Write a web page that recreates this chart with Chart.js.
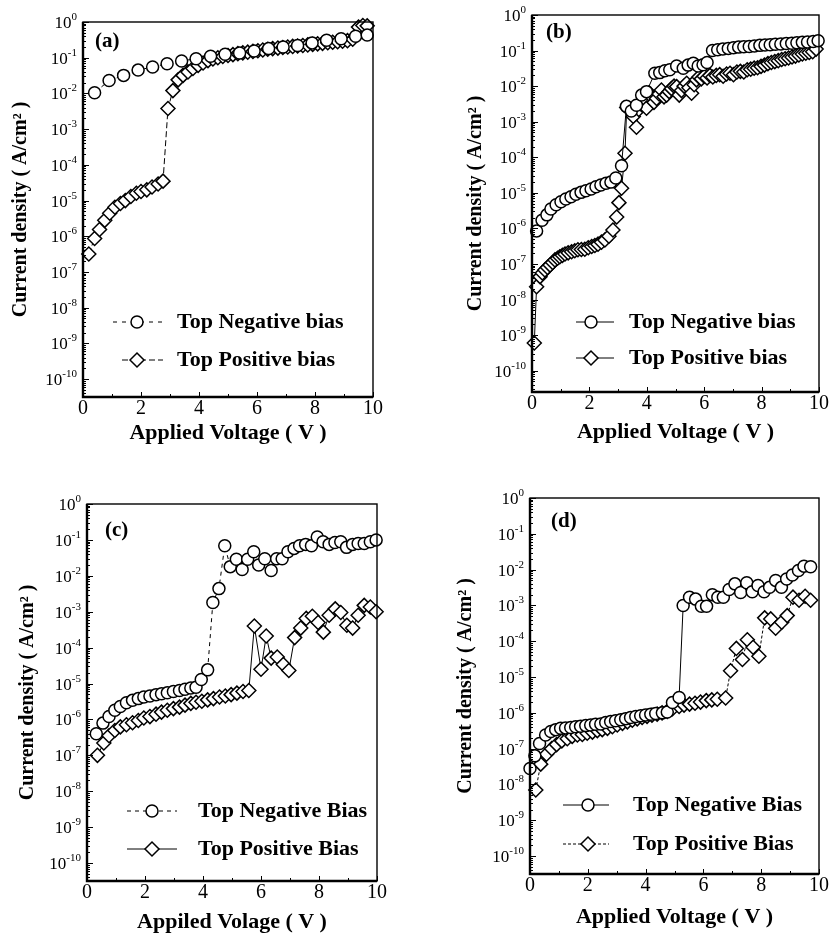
<!DOCTYPE html>
<html>
<head>
<meta charset="utf-8">
<script src="https://cdn.jsdelivr.net/npm/chart.js@4.4.1/dist/chart.umd.min.js"></script>
<style>
  html, body { margin: 0; padding: 0; background: #fff; }
  #wrap { position: relative; width: 832px; height: 938px; }
  #wrap canvas { position: absolute; }
</style>
</head>
<body>
<div id="wrap">
  <canvas id="ca" width="416" height="469" style="left:0;top:0"></canvas>
  <canvas id="cb" width="416" height="469" style="left:416px;top:0"></canvas>
  <canvas id="cc" width="416" height="469" style="left:0;top:469px"></canvas>
  <canvas id="cd" width="416" height="469" style="left:416px;top:469px"></canvas>
</div>
<script>
// ---- data (V, A/cm^2) ----

// (a)
const aNegV = [0.4, 0.9, 1.4, 1.9, 2.4, 2.9, 3.4, 3.9, 4.4, 4.9, 5.4, 5.9, 6.4, 6.9, 7.4, 7.9, 8.4, 8.9, 9.4, 9.8];
const aNegJ = [1.05e-2, 2.3e-2, 3.2e-2, 4.5e-2, 5.5e-2, 6.8e-2, 8.1e-2, 9.4e-2, 0.11, 0.125, 0.136, 0.155, 0.18, 0.2, 0.22, 0.26, 0.31, 0.34, 0.40, 0.43];
const aPosV = [0.2, 0.4, 0.57, 0.75, 0.92, 1.1, 1.29, 1.46, 1.65, 1.84,
  2.0, 2.2, 2.38, 2.59, 2.76, 2.93, 3.1, 3.28, 3.45, 3.62,
  3.79, 3.97, 4.14, 4.31, 4.48, 4.65, 4.82, 5.0, 5.17, 5.34,
  5.51, 5.68, 5.86, 6.03, 6.2, 6.37, 6.54, 6.72, 6.89, 7.06,
  7.23, 7.4, 7.58, 7.75, 7.92, 8.09, 8.26, 8.44, 8.61, 8.78,
  8.95, 9.12, 9.3, 9.5, 9.65, 9.8];
const aPosJ = [3.2e-7, 8.7e-7, 1.55e-6, 2.8e-6, 4.4e-6, 6.5e-6, 8.3e-6, 1.0e-5, 1.3e-5, 1.6e-5,
  1.8e-5, 2.0e-5, 2.4e-5, 2.9e-5, 3.5e-5, 3.8e-3, 1.2e-2, 2.4e-2, 3.2e-2, 4.0e-2,
  5.0e-2, 6.1e-2, 7.1e-2, 8.3e-2, 9.2e-2, 0.10, 0.108, 0.115, 0.122, 0.13,
  0.137, 0.143, 0.15, 0.157, 0.165, 0.172, 0.18, 0.186, 0.193, 0.2,
  0.207, 0.213, 0.22, 0.228, 0.236, 0.245, 0.253, 0.262, 0.27, 0.28,
  0.29, 0.30, 0.33, 0.72, 0.8, 0.78];

// (b)
const bNegV = [0.16, 0.35, 0.52, 0.66, 0.84, 1.01, 1.18, 1.36, 1.53, 1.71,
  1.88, 2.06, 2.23, 2.40, 2.58, 2.75, 2.92, 3.12, 3.29, 3.46,
  3.64, 3.82, 3.99, 4.28, 4.45, 4.63, 4.8, 5.04, 5.27, 5.44,
  5.62, 5.79, 5.96, 6.1, 6.29, 6.47, 6.65, 6.84, 7.02, 7.2,
  7.38, 7.57, 7.75, 7.94, 8.12, 8.3, 8.48, 8.67, 8.86, 9.05,
  9.23, 9.42, 9.6, 9.8, 9.97];
const bNegJ = [8.5e-7, 1.7e-6, 2.4e-6, 3.5e-6, 4.6e-6, 5.6e-6, 6.7e-6, 7.8e-6, 9.1e-6, 1.03e-5,
  1.15e-5, 1.28e-5, 1.48e-5, 1.66e-5, 1.85e-5, 2.0e-5, 2.6e-5, 5.8e-5, 2.7e-3, 2.0e-3,
  2.9e-3, 5.6e-3, 7.0e-3, 2.3e-2, 2.4e-2, 2.7e-2, 2.9e-2, 3.7e-2, 3.2e-2, 3.9e-2,
  4.4e-2, 3.7e-2, 4.0e-2, 4.6e-2, 0.10, 0.105, 0.11, 0.115, 0.12, 0.125,
  0.128, 0.13, 0.135, 0.14, 0.143, 0.146, 0.15, 0.153, 0.157, 0.16,
  0.165, 0.17, 0.175, 0.18, 0.19];
const bPosV = [0.08, 0.16, 0.28, 0.36, 0.45, 0.54, 0.63, 0.72, 0.8, 0.89,
  0.97, 1.06, 1.15, 1.26, 1.38, 1.49, 1.6, 1.72, 1.84, 1.96,
  2.08, 2.19, 2.3, 2.42, 2.54, 2.68, 2.82, 2.95, 3.03, 3.12,
  3.24, 3.3, 3.47, 3.53, 3.64, 3.72, 3.82, 3.9, 3.99, 4.08,
  4.17, 4.25, 4.34, 4.43, 4.51, 4.6, 4.69, 4.78, 4.86, 4.95,
  5.04, 5.13, 5.21, 5.3, 5.39, 5.47, 5.56, 5.65, 5.73, 5.82,
  5.9, 6.0, 6.1, 6.2, 6.3, 6.42, 6.54, 6.66, 6.78, 6.9,
  7.02, 7.14, 7.26, 7.38, 7.5, 7.62, 7.74, 7.86, 7.98, 8.1,
  8.22, 8.34, 8.46, 8.58, 8.7, 8.82, 8.94, 9.06, 9.18, 9.3,
  9.42, 9.54, 9.66, 9.78, 9.9];
const bPosJ = [6e-10, 2.3e-8, 4.4e-8, 5.6e-8, 6.8e-8, 8e-8, 9.3e-8, 1.1e-7, 1.3e-7, 1.45e-7,
  1.6e-7, 1.75e-7, 1.9e-7, 2.05e-7, 2.2e-7, 2.35e-7, 2.5e-7, 2.55e-7, 2.6e-7, 2.85e-7,
  3.1e-7, 3.3e-7, 3.6e-7, 4.1e-7, 4.7e-7, 6.0e-7, 9e-7, 2.1e-6, 5.3e-6, 1.35e-5,
  1.3e-4, 2.5e-3, 1.9e-3, 1.4e-3, 7e-4, 2.2e-3, 3e-3, 4.5e-3, 2.4e-3, 6.5e-3,
  5e-3, 3.5e-3, 4.5e-3, 6e-3, 7.8e-3, 5e-3, 5.6e-3, 7e-3, 8.5e-3, 1.0e-2,
  9.7e-3, 5.6e-3, 7.5e-3, 1.0e-2, 1.2e-2, 9e-3, 6.3e-3, 1.1e-2, 1.5e-2, 1.8e-2,
  1.6e-2, 1.9e-2, 1.7e-2, 2.0e-2, 1.8e-2, 2.0e-2, 2.1e-2, 1.9e-2, 2.2e-2, 2.3e-2,
  2.1e-2, 2.5e-2, 2.6e-2, 2.5e-2, 2.9e-2, 3.0e-2, 3.2e-2, 3.3e-2, 3.6e-2, 3.9e-2,
  4.3e-2, 4.6e-2, 4.9e-2, 5.2e-2, 5.6e-2, 5.9e-2, 6.2e-2, 6.6e-2, 7.0e-2, 7.5e-2,
  8.0e-2, 8.4e-2, 8.8e-2, 9.3e-2, 0.11];

// (c)
const cNegV = [0.32, 0.55, 0.76, 0.96, 1.15, 1.36, 1.57, 1.77, 1.96, 2.17,
  2.38, 2.57, 2.77, 2.98, 3.19, 3.38, 3.58, 3.76, 3.94, 4.16,
  4.34, 4.55, 4.75, 4.94, 5.15, 5.35, 5.54, 5.75, 5.92, 6.13,
  6.35, 6.54, 6.73, 6.93, 7.14, 7.33, 7.54, 7.74, 7.94, 8.14,
  8.35, 8.55, 8.75, 8.95, 9.16, 9.35, 9.56, 9.77, 9.97];
const cNegJ = [4e-7, 7.9e-7, 1.2e-6, 1.8e-6, 2.3e-6, 2.9e-6, 3.4e-6, 3.8e-6, 4.2e-6, 4.5e-6,
  4.9e-6, 5.2e-6, 5.5e-6, 6.0e-6, 6.4e-6, 6.9e-6, 7.5e-6, 7.9e-6, 1.3e-5, 2.4e-5,
  1.8e-3, 4.4e-3, 6.9e-2, 1.8e-2, 2.9e-2, 1.5e-2, 2.9e-2, 4.7e-2, 2e-2, 3e-2,
  1.4e-2, 3e-2, 3e-2, 4.7e-2, 5.8e-2, 6.9e-2, 7.5e-2, 6.9e-2, 0.12, 8.9e-2,
  7.5e-2, 8.5e-2, 8.9e-2, 6.2e-2, 7.5e-2, 7.9e-2, 7.9e-2, 8.9e-2, 0.10];
const cPosV = [0.36, 0.58, 0.76, 0.96, 1.15, 1.36, 1.57, 1.77, 1.96, 2.17,
  2.38, 2.57, 2.77, 2.98, 3.19, 3.38, 3.58, 3.76, 3.96, 4.16,
  4.36, 4.57, 4.77, 4.97, 5.17, 5.38, 5.58, 5.77, 6.0, 6.18,
  6.35, 6.56, 6.77, 6.96, 7.16, 7.37, 7.56, 7.77, 7.97, 8.15,
  8.35, 8.56, 8.75, 8.96, 9.16, 9.35, 9.56, 9.77, 9.97];
const cPosJ = [1.0e-7, 2.2e-7, 3.5e-7, 4.9e-7, 6.2e-7, 7.1e-7, 8.1e-7, 9.3e-7, 1.1e-6, 1.2e-6,
  1.4e-6, 1.6e-6, 1.8e-6, 2.0e-6, 2.2e-6, 2.5e-6, 2.8e-6, 3.0e-6, 3.2e-6, 3.5e-6,
  3.8e-6, 4.2e-6, 4.5e-6, 4.9e-6, 5.4e-6, 6.0e-6, 6.4e-6, 4.0e-4, 2.5e-5, 2.1e-4,
  5.1e-5, 5.5e-5, 3.4e-5, 2.3e-5, 1.9e-4, 3.5e-4, 6.5e-4, 7.5e-4, 5e-4, 2.7e-4,
  8e-4, 1.2e-3, 9.5e-4, 4.2e-4, 3.5e-4, 8e-4, 1.5e-3, 1.35e-3, 1.0e-3];

// (d)
const dNegV = [0.0, 0.17, 0.33, 0.54, 0.72, 0.89, 1.06, 1.23, 1.41, 1.58,
  1.75, 1.93, 2.10, 2.27, 2.45, 2.62, 2.79, 2.96, 3.14, 3.31,
  3.48, 3.66, 3.83, 4.0, 4.18, 4.35, 4.58, 4.75, 4.93, 5.16,
  5.3, 5.52, 5.73, 5.93, 6.11, 6.31, 6.5, 6.69, 6.89, 7.09,
  7.29, 7.5, 7.69, 7.89, 8.1, 8.29, 8.5, 8.7, 8.88, 9.08,
  9.29, 9.48, 9.71];
const dNegJ = [2.8e-8, 6.3e-8, 1.4e-7, 2.4e-7, 3.0e-7, 3.4e-7, 3.7e-7, 3.8e-7, 3.9e-7, 4.1e-7,
  4.2e-7, 4.4e-7, 4.6e-7, 4.8e-7, 4.9e-7, 5.4e-7, 5.7e-7, 6.0e-7, 6.4e-7, 6.9e-7,
  7.4e-7, 7.9e-7, 8.3e-7, 8.7e-7, 9.1e-7, 9.6e-7, 1.0e-6, 1.05e-6, 1.95e-6, 2.7e-6,
  1e-3, 1.7e-3, 1.5e-3, 9.5e-4, 9.5e-4, 2e-3, 1.7e-3, 1.7e-3, 2.8e-3, 4e-3,
  2.3e-3, 4.3e-3, 2.4e-3, 3.6e-3, 2.4e-3, 3.2e-3, 5e-3, 3.2e-3, 5.5e-3, 7.1e-3,
  9.5e-3, 1.25e-2, 1.2e-2];
const dPosV = [0.2, 0.37, 0.57, 0.75, 0.92, 1.1, 1.29, 1.46, 1.64, 1.81,
  1.98, 2.16, 2.33, 2.5, 2.68, 2.85, 3.02, 3.2, 3.37, 3.54,
  3.71, 3.88, 4.05, 4.22, 4.4, 4.57, 4.75, 4.93, 5.16, 5.33,
  5.52, 5.71, 5.9, 6.1, 6.29, 6.48, 6.77, 6.94, 7.14, 7.35,
  7.52, 7.72, 7.92, 8.12, 8.33, 8.5, 8.71, 8.9, 9.1, 9.31,
  9.52, 9.71];
const dPosJ = [7e-9, 3.7e-8, 7e-8, 1e-7, 1.3e-7, 1.65e-7, 1.9e-7, 2.2e-7, 2.4e-7, 2.5e-7,
  2.7e-7, 2.9e-7, 3.2e-7, 3.4e-7, 3.7e-7, 4.1e-7, 4.6e-7, 5.1e-7, 5.6e-7, 6.2e-7,
  6.8e-7, 7.4e-7, 8.0e-7, 8.6e-7, 9.2e-7, 1.0e-6, 1.1e-6, 1.3e-6, 1.5e-6, 1.65e-6,
  1.75e-6, 1.85e-6, 2.0e-6, 2.2e-6, 2.3e-6, 2.4e-6, 2.6e-6, 1.5e-5, 6.3e-5, 3.1e-5,
  1.1e-4, 6.8e-5, 3.8e-5, 4.5e-4, 4.2e-4, 2.3e-4, 3.4e-4, 5.2e-4, 1.7e-3, 1.4e-3,
  1.8e-3, 1.4e-3];

// ---- axes ----
const yTickVals = [1e-10, 1e-9, 1e-8, 1e-7, 1e-6, 1e-5, 1e-4, 1e-3, 1e-2, 1e-1, 1];
const yTickExp = ['-10', '-9', '-8', '-7', '-6', '-5', '-4', '-3', '-2', '-1', '0'];
const xTickStep = 2;
const yTitle = 'Current density ( A/cm² )';

const SERIF = '"Liberation Serif", "Times New Roman", serif';
const W = 416, H = 469;

const pts = (xs, ys) => xs.map((x, i) => ({ x: x, y: ys[i] }));

// inward ticks, 10^n labels, frame, panel tag and in-plot legend
const panelDeco = {
  id: 'panelDeco',
  afterDraw(chart, args, o) {
    const ctx = chart.ctx, a = chart.chartArea;
    const xs = chart.scales.x, ys = chart.scales.y;
    ctx.save();
    ctx.strokeStyle = '#000';
    ctx.fillStyle = '#000';

    ctx.lineWidth = 1;
    ctx.beginPath();
    for (let e = -11; e <= 0; e++) {
      for (let m = 1; m < 10; m++) {
        const v = m * Math.pow(10, e);
        if (v < ys.min || v > ys.max) continue;
        const y = Math.round(ys.getPixelForValue(v)) + 0.5;
        const len = m === 1 ? 6 : 3;
        ctx.moveTo(a.left, y);
        ctx.lineTo(a.left + len, y);
      }
    }
    for (let v = 0; v <= 10; v++) {
      const x = Math.round(xs.getPixelForValue(v)) + 0.5;
      const len = v % 2 === 0 ? 5 : 3;
      ctx.moveTo(x, a.bottom);
      ctx.lineTo(x, a.bottom - len);
    }
    ctx.stroke();

    // y tick labels: "10" with a raised exponent
    ctx.textAlign = 'right';
    ctx.textBaseline = 'alphabetic';
    yTickVals.forEach((v, i) => {
      const y = ys.getPixelForValue(v);
      const xr = a.left - 6;
      ctx.font = '11px ' + SERIF;
      ctx.fillText(yTickExp[i], xr, y - 2);
      const ew = ctx.measureText(yTickExp[i]).width;
      ctx.font = '17px ' + SERIF;
      ctx.fillText('10', xr - ew, y + 6);
    });

    ctx.lineWidth = 1.4;
    ctx.strokeRect(a.left, a.top, a.right - a.left, a.bottom - a.top);
    ctx.lineWidth = 2.4;
    ctx.beginPath();
    ctx.moveTo(a.left, a.top);
    ctx.lineTo(a.left, a.bottom);
    ctx.lineTo(a.right, a.bottom);
    ctx.stroke();

    ctx.font = 'bold 21px ' + SERIF;
    ctx.textBaseline = 'middle';
    ctx.textAlign = 'left';
    ctx.fillText(o.tag, o.tagX, o.tagY);

    ctx.font = 'bold 22px ' + SERIF;
    chart.data.datasets.forEach((ds, i) => {
      const y = o.rows[i];
      ctx.lineWidth = 1;
      ctx.setLineDash(ds.borderDash || []);
      ctx.beginPath();
      ctx.moveTo(o.lineX[i][0], y);
      ctx.lineTo(o.lineX[i][1], y);
      ctx.stroke();
      ctx.setLineDash([]);
      ctx.lineWidth = ds.pointBorderWidth;
      ctx.beginPath();
      const r = ds.pointRadius, mx = o.markX;
      if (ds.pointStyle === 'rectRot') {
        ctx.moveTo(mx - r, y); ctx.lineTo(mx, y - r);
        ctx.lineTo(mx + r, y); ctx.lineTo(mx, y + r);
        ctx.closePath();
      } else {
        ctx.arc(mx, y, r, 0, Math.PI * 2);
      }
      ctx.fillStyle = '#fff';
      ctx.fill();
      ctx.stroke();
      ctx.fillStyle = '#000';
      ctx.fillText(ds.label, o.textX, y);
    });
    ctx.restore();
  }
};

function makePanel(id, g, xTitle, neg, pos, deco) {
  const yLh = 20 * 1.2, xLh = 22 * 1.2;
  const padLeft = g.yTitleX - yLh / 2;
  const yW = g.L - padLeft;
  const xH = g.xTitleY + xLh / 2 - g.B;
  new Chart(document.getElementById(id), {
    type: 'scatter',
    data: {
      datasets: [
        Object.assign({
          pointStyle: 'circle', pointRadius: 6
        }, neg),
        Object.assign({
          pointStyle: 'rectRot', pointRadius: 7
        }, pos)
      ].map(ds => Object.assign({
        showLine: true,
        borderColor: '#000',
        borderWidth: 1,
        pointBorderColor: '#000',
        pointBackgroundColor: '#fff',
        pointBorderWidth: 1.5,
        clip: false
      }, ds))
    },
    options: {
      responsive: false,
      animation: false,
      devicePixelRatio: 1,
      layout: {
        padding: { left: padLeft, top: g.T, right: W - g.R, bottom: H - g.B - xH }
      },
      plugins: {
        legend: { display: false },
        tooltip: { enabled: false },
        panelDeco: deco
      },
      scales: {
        x: {
          type: 'linear', min: 0, max: 10,
          grid: { display: false, drawTicks: false },
          border: { display: false },
          ticks: { stepSize: xTickStep, color: '#000', padding: 0, maxRotation: 0,
                   font: { family: SERIF, size: 20 } },
          title: { display: true, text: xTitle, color: '#000', padding: 0,
                   font: { family: SERIF, size: 22, weight: 'bold' } },
          afterFit: s => { s.height = xH; }
        },
        y: {
          type: 'logarithmic', min: Math.pow(10, g.yMinExp), max: 1,
          grid: { display: false, drawTicks: false },
          border: { display: false },
          afterBuildTicks: s => { s.ticks = yTickVals.map(v => ({ value: v })); },
          ticks: { display: false },
          title: { display: true, text: yTitle, color: '#000', padding: 0,
                   font: { family: SERIF, size: 20, weight: 'bold' } },
          afterFit: s => { s.width = yW; }
        }
      }
    },
    plugins: [panelDeco]
  });
}

makePanel('ca',
  { L: 83, R: 373, T: 22, B: 397, yTitleX: 21, xTitleY: 433, yMinExp: -10.5 },
  'Applied Voltage ( V )',
  { label: 'Top Negative bias', data: pts(aNegV, aNegJ), borderDash: [4, 5] },
  { label: 'Top Positive bias', data: pts(aPosV, aPosJ), borderDash: [6, 3] },
  { tag: '(a)', tagX: 95, tagY: 42, rows: [322, 360], lineX: [[113, 163], [122, 163]], markX: 137, textX: 177 });

makePanel('cb',
  { L: 116, R: 403, T: 15, B: 392, yTitleX: 60, xTitleY: 432, yMinExp: -10.6 },
  'Applied Voltage ( V )',
  { label: 'Top Negative bias', data: pts(bNegV, bNegJ) },
  { label: 'Top Positive bias', data: pts(bPosV, bPosJ) },
  { tag: '(b)', tagX: 130, tagY: 33, rows: [322, 358], lineX: [[160, 198], [160, 198]], markX: 175, textX: 213 });

makePanel('cc',
  { L: 87, R: 377, T: 35, B: 412, yTitleX: 28, xTitleY: 453, yMinExp: -10.5 },
  'Appiled Volage ( V )',
  { label: 'Top Negative Bias', data: pts(cNegV, cNegJ), borderDash: [4, 4] },
  { label: 'Top Positive Bias', data: pts(cPosV, cPosJ) },
  { tag: '(c)', tagX: 105, tagY: 62, rows: [342, 380], lineX: [[127, 177], [127, 177]], markX: 152, textX: 198 });

makePanel('cd',
  { L: 114, R: 403, T: 29, B: 405, yTitleX: 50, xTitleY: 448, yMinExp: -10.5 },
  'Applied Voltage ( V )',
  { label: 'Top Negative Bias', data: pts(dNegV, dNegJ) },
  { label: 'Top Positive Bias', data: pts(dPosV, dPosJ), borderDash: [3, 2] },
  { tag: '(d)', tagX: 135, tagY: 53, rows: [336, 375], lineX: [[147, 193], [147, 193]], markX: 172, textX: 217 });
</script>
</body>
</html>
